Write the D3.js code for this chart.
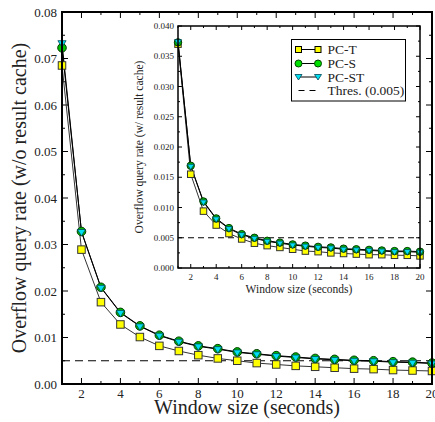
<!DOCTYPE html>
<html><head><meta charset="utf-8">
<script src="https://cdn.jsdelivr.net/npm/d3@7"></script>
<style>body{margin:0;background:#fff}svg{display:block}</style>
</head><body><svg id="c" width="435" height="422"></svg>
<script>
const windows = [1,2,3,4,5,6,7,8,9,10,11,12,13,14,15,16,17,18,19,20];
// main chart: w/o result cache
const mainT  = [0.0685,0.0289,0.0176,0.0128,0.0101,0.0082,0.0071,0.0062,0.0055,0.0050,0.0045,0.0042,0.0039,0.0037,0.0035,0.0033,0.0032,0.0030,0.0029,0.0028];
const mainS  = [0.0723,0.0328,0.0208,0.0154,0.0125,0.0105,0.0092,0.0082,0.0076,0.0069,0.0065,0.0061,0.0058,0.0055,0.0053,0.0051,0.0050,0.0048,0.0047,0.0045];
const mainST = [0.0733,0.0327,0.0207,0.0153,0.0124,0.0104,0.0091,0.0081,0.0075,0.0068,0.0064,0.0060,0.0057,0.0054,0.0052,0.0050,0.0049,0.0047,0.0046,0.0044];
// inset: w/ result cache
const insetT  = [0.0370,0.0155,0.0094,0.0071,0.0057,0.0048,0.0041,0.0037,0.0034,0.0031,0.0028,0.0027,0.0025,0.0024,0.0023,0.0022,0.0022,0.0021,0.0021,0.0020];
const insetS  = [0.0373,0.0169,0.0110,0.0082,0.0066,0.0056,0.0050,0.0045,0.0042,0.0039,0.0037,0.0035,0.0034,0.0032,0.0031,0.0030,0.0029,0.0028,0.0028,0.0027];
const insetST = [0.0374,0.0168,0.0109,0.0081,0.0065,0.0055,0.0049,0.0044,0.0041,0.0038,0.0036,0.0034,0.0033,0.0031,0.0030,0.0029,0.0028,0.0027,0.0027,0.0026];
const threshold = 0.005;
const mainYTicks = [0,0.01,0.02,0.03,0.04,0.05,0.06,0.07,0.08];
const insetYTicks = [0,0.005,0.010,0.015,0.020,0.025,0.030,0.035,0.040];
const xTicks = [2,4,6,8,10,12,14,16,18,20];
const legendLabels = ["PC-T","PC-S","PC-ST","Thres. (0.005)"];

const svg = d3.select("#c");
const FF = "'Liberation Serif', 'DejaVu Serif', 'Times New Roman', serif";

function panel(opt){
  const g = svg.append("g");
  const x = d3.scaleLinear().domain([1,20]).range([opt.l,opt.r]);
  const y = d3.scaleLinear().domain([0,opt.ymax]).range([opt.b,opt.t]);
  g.append("rect").attr("x",opt.l).attr("y",opt.t).attr("width",opt.r-opt.l).attr("height",opt.b-opt.t).attr("fill","#fff");
  const minorX = d3.range(1,21);
  const minorY = d3.range(0,opt.ymax+1e-9,opt.ystep/2);
  const tk = (sel)=>sel.attr("stroke","#000").attr("stroke-width",1);
  minorX.forEach(v=>{
    const len = (v%2===0)?opt.maj:opt.min;
    tk(g.append("line").attr("x1",x(v)).attr("x2",x(v)).attr("y1",opt.b).attr("y2",opt.b-len));
    tk(g.append("line").attr("x1",x(v)).attr("x2",x(v)).attr("y1",opt.t).attr("y2",opt.t+len));
  });
  minorY.forEach((v,i)=>{
    const len = (i%2===0)?opt.maj:opt.min;
    tk(g.append("line").attr("y1",y(v)).attr("y2",y(v)).attr("x1",opt.l).attr("x2",opt.l+len));
    tk(g.append("line").attr("y1",y(v)).attr("y2",y(v)).attr("x1",opt.r).attr("x2",opt.r-len));
  });
  const txt = ()=>g.append("text").attr("font-family",FF).attr("fill","#222");
  xTicks.forEach(v=>txt().attr("x",x(v)).attr("y",opt.b+opt.xlabOff).attr("text-anchor","middle").attr("font-size",opt.tickFont).text(v));
  opt.yticks.forEach(v=>txt().attr("x",opt.l-opt.ylabOff).attr("y",y(v)).attr("dy","0.35em").attr("text-anchor","end").attr("font-size",opt.tickFont).text(d3.format(opt.fmt)(v)));
  txt().attr("x",(opt.l+opt.r)/2).attr("y",opt.xtitleY).attr("text-anchor","middle").attr("font-size",opt.titleFont).text("Window size (seconds)");
  txt().attr("transform",`translate(${opt.ytitleX},${(opt.t+opt.b)/2}) rotate(-90)`).attr("text-anchor","middle").attr("font-size",opt.titleFont).text(opt.ytitle);
  g.append("line").attr("x1",opt.l).attr("x2",opt.r).attr("y1",y(threshold)).attr("y2",y(threshold)).attr("stroke","#000").attr("stroke-width",1).attr("stroke-dasharray",opt.dash);
  const line = d3.line().x((d,i)=>x(windows[i])).y(d=>y(d));
  g.append("path").attr("d",line(opt.T)).attr("fill","none").attr("stroke","#333").attr("stroke-width",1);
  g.append("path").attr("d",line(opt.S)).attr("fill","none").attr("stroke","#000").attr("stroke-width",1);
  g.append("path").attr("d",line(opt.ST)).attr("fill","none").attr("stroke","#000").attr("stroke-width",1);
  const sq = opt.sq;
  opt.T.forEach((v,i)=>g.append("rect").attr("x",x(windows[i])-sq/2).attr("y",y(v)-sq/2).attr("width",sq).attr("height",sq).attr("fill","#ffff00").attr("stroke","#333").attr("stroke-width",1));
  opt.S.forEach((v,i)=>g.append("circle").attr("cx",x(windows[i])).attr("cy",y(v)).attr("r",opt.cr).attr("fill","#00c000").attr("stroke","#003a00").attr("stroke-width",1));
  opt.ST.forEach((v,i)=>{
    const cx=x(windows[i]), cy=y(v)+opt.tw*0.1, w=opt.tw, h=opt.tw*0.8;
    g.append("path").attr("d",`M${cx-w/2},${cy-h/2}L${cx+w/2},${cy-h/2}L${cx},${cy+h/2}Z`).attr("fill","#00e0f0").attr("stroke","#004455").attr("stroke-width",0.8);
  });
  g.append("rect").attr("x",opt.l).attr("y",opt.t).attr("width",opt.r-opt.l).attr("height",opt.b-opt.t).attr("fill","none").attr("stroke","#000").attr("stroke-width",opt.frame);
  return {g,x,y};
}

panel({l:62,r:432,t:12,b:384,ymax:0.08,ystep:0.01,yticks:mainYTicks,fmt:".2f",maj:6,min:3,
  tickFont:13,titleFont:20,xlabOff:13.5,ylabOff:5,xtitleY:414,ytitleX:26,ytitle:"Overflow query rate (w/o result cache)",
  T:mainT,S:mainS,ST:mainST,sq:7.5,cr:4.3,tw:8.2,dash:"8,5",frame:2});

panel({l:178,r:420,t:26,b:268,ymax:0.04,ystep:0.005,yticks:insetYTicks,fmt:".3f",maj:4,min:2,
  tickFont:9,titleFont:11.5,xlabOff:11.5,ylabOff:4,xtitleY:293,ytitleX:143,ytitle:"Overflow query rate (w/ result cache)",
  T:insetT,S:insetS,ST:insetST,sq:6.5,cr:3.7,tw:7,dash:"6,4",frame:1.5});

const lg = svg.append("g");
lg.append("rect").attr("x",291.5).attr("y",39.5).attr("width",114).attr("height",61.5).attr("fill","#fff").attr("stroke","#000").attr("stroke-width",1);
const ly = [49.5,63.5,77,90.5];
const lx1=298.5, lx2=318;
legendLabels.forEach((t,i)=>{
  lg.append("text").attr("font-family",FF).attr("fill","#222").attr("x",327.5).attr("y",ly[i]).attr("dy","0.35em").attr("font-size",13.5).text(t);
});
lg.append("line").attr("x1",lx1).attr("x2",lx2).attr("y1",ly[0]).attr("y2",ly[0]).attr("stroke","#000");
[lx1,lx2].forEach(cx=>lg.append("rect").attr("x",cx-3).attr("y",ly[0]-3).attr("width",6).attr("height",6).attr("fill","#ffff00").attr("stroke","#000"));
lg.append("line").attr("x1",lx1).attr("x2",lx2).attr("y1",ly[1]).attr("y2",ly[1]).attr("stroke","#000");
[lx1,lx2].forEach(cx=>lg.append("circle").attr("cx",cx).attr("cy",ly[1]).attr("r",3.5).attr("fill","#00e000").attr("stroke","#004400"));
lg.append("line").attr("x1",lx1).attr("x2",lx2).attr("y1",ly[2]).attr("y2",ly[2]).attr("stroke","#000");
[lx1,lx2].forEach(cx=>lg.append("path").attr("d",`M${cx-3.5},${ly[2]-2.5}L${cx+3.5},${ly[2]-2.5}L${cx},${ly[2]+3}Z`).attr("fill","#00e0f0").attr("stroke","#004455").attr("stroke-width",0.8));
lg.append("line").attr("x1",lx1).attr("x2",lx2).attr("y1",ly[3]).attr("y2",ly[3]).attr("stroke","#000").attr("stroke-dasharray","6,5");
</script></body></html>
